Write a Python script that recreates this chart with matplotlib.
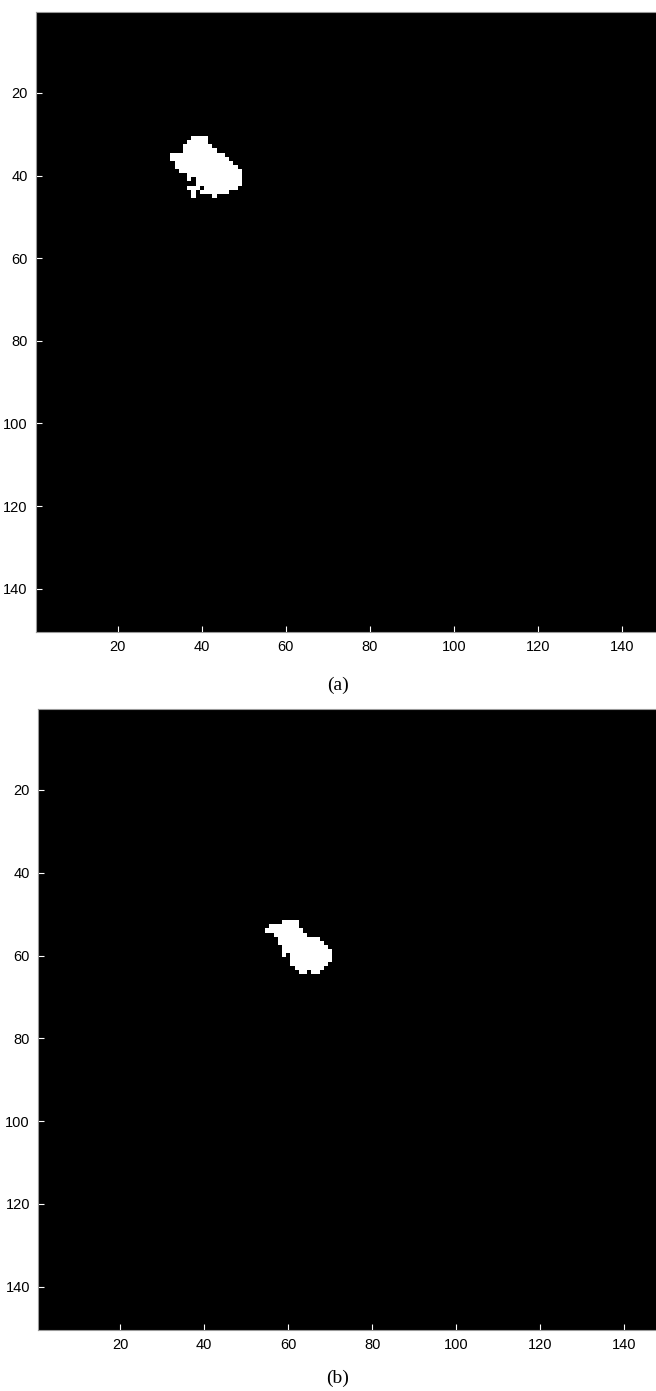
"""Two binary segmentation masks (frames a and b) shown MATLAB-style."""
import numpy as np
import matplotlib

matplotlib.use("Agg")
import matplotlib.pyplot as plt


N_ROWS = 150
N_COLS = 150
TICKS = [20, 40, 60, 80, 100, 120, 140]

# white pixel runs per image row: (first col, last col), 1-based like MATLAB
BLOB_A_ROWS = list(range(31, 46))
BLOB_A_RUNS = [
    [(38, 41)],
    [(37, 41)],
    [(36, 42)],
    [(36, 43)],
    [(33, 45)],
    [(33, 46)],
    [(34, 47)],
    [(34, 48)],
    [(35, 49)],
    [(37, 49)],
    [(37, 37), (39, 49)],
    [(39, 49)],
    [(37, 39), (41, 48)],
    [(38, 38), (40, 46)],
    [(38, 38), (43, 43)],
]

BLOB_B_ROWS = list(range(52, 65))
BLOB_B_RUNS = [
    [(59, 62)],
    [(56, 62)],
    [(55, 63)],
    [(57, 64)],
    [(58, 67)],
    [(58, 68)],
    [(59, 69)],
    [(59, 70)],
    [(59, 59), (61, 70)],
    [(61, 70)],
    [(61, 69)],
    [(62, 68)],
    [(63, 64), (66, 67)],
]

CAPTIONS = ["(a)", "(b)"]


def make_mask(rows, runs):
    img = np.zeros((N_ROWS, N_COLS))
    for r, row_runs in zip(rows, runs):
        for c0, c1 in row_runs:
            img[r - 1, c0 - 1:c1] = 1.0
    return img


def draw(ax, img):
    ax.imshow(img, cmap="gray", vmin=0, vmax=1, interpolation="nearest",
              aspect="auto", extent=(0.5, N_COLS + 0.5, N_ROWS + 0.5, 0.5))
    ax.set_xticks(TICKS)
    ax.set_yticks(TICKS)
    ax.tick_params(direction="in", length=4, labelsize=10.5, pad=6,
                   color="white")
    for lab in ax.get_xticklabels() + ax.get_yticklabels():
        lab.set_fontfamily("Liberation Sans")
    for s in ax.spines.values():
        s.set_color("#999999")
        s.set_linewidth(0.8)


def main():
    W, H = 656, 1391
    fig = plt.figure(figsize=(W / 100, H / 100), dpi=100)

    masks = [make_mask(BLOB_A_ROWS, BLOB_A_RUNS),
             make_mask(BLOB_B_ROWS, BLOB_B_RUNS)]
    # axes boxes in pixels: left, top, bottom
    boxes = [(36, 12.4, 632), (38.3, 709.3, 1330)]
    cap_y = [685, 1378]

    for img, (left, top, bottom), cap, cy in zip(masks, boxes, CAPTIONS, cap_y):
        ax = fig.add_axes([left / W, 1 - bottom / H, 630 / W, (bottom - top) / H])
        draw(ax, img)
        fig.text(338 / W, 1 - cy / H, cap, ha="center", va="center",
                 fontsize=14, family="Liberation Serif")

    fig.savefig("out.png", dpi=100)


if __name__ == "__main__":
    main()
